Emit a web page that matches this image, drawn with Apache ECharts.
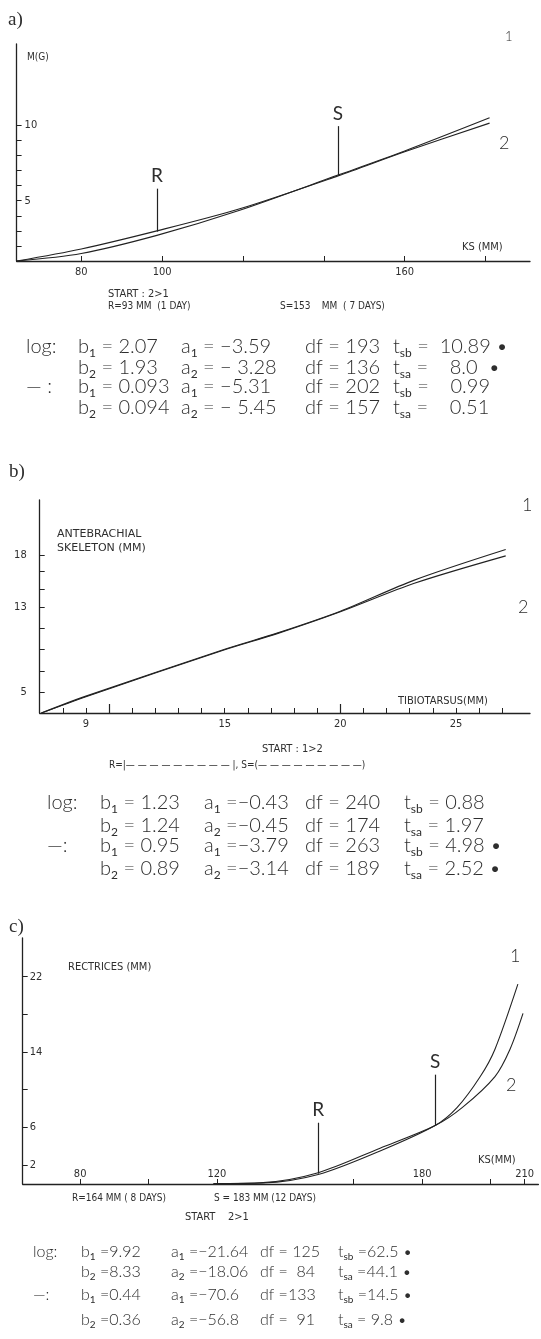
<!DOCTYPE html>
<html>
<head>
<meta charset="utf-8">
<script src="https://cdn.jsdelivr.net/npm/echarts@6/dist/echarts.min.js"></script>
<style>
  html, body { margin: 0; padding: 0; background: #fff; }
  #chart { width: 541px; height: 1339px; }
</style>
</head>
<body>
<div id="chart"></div>
<script>
// ---- Panel a: body mass M(G) against KS (MM) ----
const aLine1 = [[64, 1.0], [80, 1.5], [98.7, 2.7], [119, 4.35], [143.5, 6.7], [160, 8.3], [181, 10.5]];
const aLine2 = [[64, 1.0], [80, 1.8], [98.7, 3.0], [119, 4.45], [143.5, 6.65], [160, 8.25], [181, 10.15]];
const aMarkNames = ['R', 'S'];
const aMarkX = [98.7, 143.5];
const aMarkBase = [2.95, 6.7];
const aMarkTop = [5.8, 9.95];
const aXTicks = [80, 100, 120, 140, 160, 180];
const aXLabels = [80, 100, 160];
const aYTicks = [2, 3, 4, 5, 6, 7, 8, 9, 10];
const aYLabels = [5, 10];

// ---- Panel b: antebrachial skeleton against tibiotarsus ----
const bLine1 = [[7.07, 3.0], [9, 4.6], [15, 9.05], [17.3, 10.6], [20, 12.65], [23.2, 15.6], [27.15, 18.5]];
const bLine2 = [[7.07, 3.0], [9, 4.55], [15, 9.0], [17.3, 10.55], [20, 12.6], [23.2, 15.3], [27.15, 17.9]];
const bXTicks = [8, 9, 10, 11, 12, 13, 14, 15, 16, 17, 18, 19, 20, 21, 22, 23, 24, 25, 26, 27];
const bXMajorTicks = [10, 20];
const bXLabels = [9, 15, 20, 25];
const bYTicks = [5, 7, 9, 11, 13, 14.7, 16.4, 18];
const bYLabels = [5, 13, 18];

// ---- Panel c: rectrices against KS (MM) ----
const cLine1 = [[119, 0.05], [133.5, 0.1], [149.6, 1.0], [167.7, 3.5], [183.8, 6.2], [190.2, 8.1], [197, 11.4], [201.3, 14.3], [208, 21.2]];
const cLine2 = [[119, 0.05], [133.5, 0.15], [149.6, 1.2], [167.7, 3.8], [183.8, 6.2], [191.7, 8.1], [201.3, 11.4], [205.7, 14.3], [209.5, 18.1]];
const cMarkNames = ['R', 'S'];
const cMarkX = [149.6, 183.8];
const cMarkBase = [1.1, 6.2];
const cMarkTop = [6.5, 11.6];
const cXTicks = [80, 100, 120, 160, 180, 200, 210];
const cXLabels = [80, 120, 180, 210];
const cYTicks = [2, 6, 10, 14, 18, 22];
const cYLabels = [2, 6, 14, 22];

// ---- Regression statistics printed under each panel ----
const aStats = [
  ['log:', 'b_1 = 2.07', 'a_1 = −3.59', 'df = 193', 't_sb =  10.89 •'],
  ['', 'b_2 = 1.93', 'a_2 = − 3.28', 'df = 136', 't_sa =    8.0  •'],
  ['— :', 'b_1 = 0.093', 'a_1 = −5.31', 'df = 202', 't_sb =    0.99'],
  ['', 'b_2 = 0.094', 'a_2 = − 5.45', 'df = 157', 't_sa =    0.51']
];
const bStats = [
  ['log:', 'b_1 = 1.23', 'a_1 =−0.43', 'df = 240', 't_sb = 0.88'],
  ['', 'b_2 = 1.24', 'a_2 =−0.45', 'df = 174', 't_sa = 1.97'],
  ['—:', 'b_1 = 0.95', 'a_1 =−3.79', 'df = 263', 't_sb = 4.98 •'],
  ['', 'b_2 = 0.89', 'a_2 =−3.14', 'df = 189', 't_sa = 2.52 •']
];
const cStats = [
  ['log:', 'b_1 =9.92', 'a_1 =−21.64', 'df = 125', 't_sb =62.5 •'],
  ['', 'b_2 =8.33', 'a_2 =−18.06', 'df =  84', 't_sa =44.1 •'],
  ['—:', 'b_1 =0.44', 'a_1 =−70.6', 'df =133', 't_sb =14.5 •'],
  ['', 'b_2 =0.36', 'a_2 =−56.8', 'df =  91', 't_sa = 9.8 •']
];

const INK = '#222';
const TEXT = '#2e2e2e';
const CAPS = '"DejaVu Sans Condensed", "DejaVu Sans", sans-serif';
const STAT = 'Lato, "Open Sans", sans-serif';
const PANEL = '"Liberation Serif", "DejaVu Serif", serif';

const chart = echarts.init(document.getElementById('chart'), null, { renderer: 'canvas' });

function xAxisCfg(grid, min, max, ticks, labels, inside) {
  return {
    type: 'value', gridIndex: grid, min: min, max: max,
    axisLine: { show: true, onZero: false, lineStyle: { color: INK, width: 1.3 } },
    splitLine: { show: false },
    axisTick: { show: true, inside: true, length: 5, customValues: ticks, lineStyle: { color: INK, width: 1 } },
    axisLabel: { show: true, inside: inside, margin: inside ? 4 : 6, customValues: labels, fontFamily: CAPS, fontSize: 11, color: TEXT }
  };
}
function yAxisCfg(grid, min, max, ticks, labels, inside, margin) {
  return {
    type: 'value', gridIndex: grid, min: min, max: max,
    axisLine: { show: true, onZero: false, lineStyle: { color: INK, width: 1.3 } },
    splitLine: { show: false },
    axisTick: { show: true, inside: true, length: 5, customValues: ticks, lineStyle: { color: INK, width: 1 } },
    axisLabel: { show: true, inside: inside, margin: margin, customValues: labels, fontFamily: CAPS, fontSize: 11, color: TEXT }
  };
}
function markSegments(names, xs, base, top) {
  return names.map((n, i) => [{ name: n, coord: [xs[i], base[i]] }, { coord: [xs[i], top[i]] }]);
}
function lineSeries(data, xi, yi, marks) {
  const s = {
    type: 'line', xAxisIndex: xi, yAxisIndex: yi, data: data,
    smooth: 0.3, symbol: 'none', silent: true,
    lineStyle: { color: INK, width: 1.1 }
  };
  if (marks) {
    s.markLine = {
      silent: true, symbol: ['none', 'none'], animation: false,
      lineStyle: { color: INK, width: 1.2, type: 'solid' },
      label: { show: true, position: 'end', distance: 3, formatter: '{b}', fontFamily: STAT, fontSize: 19, color: TEXT },
      emphasis: { disabled: true },
      data: marks
    };
  }
  return s;
}

// plain text placed at a left / vertical-centre point
function txt(x, y, s, size, family, extra) {
  return {
    type: 'text', x: x, y: y, silent: true,
    style: Object.assign({ text: s, fontSize: size, fontFamily: family || CAPS, fill: TEXT, verticalAlign: 'middle', align: 'left' }, extra || {})
  };
}
// statistic cell with subscripts written as  base_sub
function statCell(x, y, s, size) {
  const parts = s.split(/_(\w+)/);
  let rich = '';
  parts.forEach((p, i) => {
    if (p === '') return;
    rich += (i % 2 === 1) ? '{s|' + p + '}' : '{m|' + p + '}';
  });
  return {
    type: 'text', x: x, y: y, silent: true,
    style: {
      text: rich, verticalAlign: 'middle', align: 'left', fill: TEXT,
      rich: {
        m: { fontSize: size, fontFamily: STAT, fontWeight: 300, lineHeight: size + 4, verticalAlign: 'middle', fill: TEXT },
        s: { fontSize: Math.round(size * 0.6), fontFamily: STAT, fontWeight: 400, lineHeight: Math.round(size * 0.5), verticalAlign: 'bottom', fill: TEXT }
      }
    }
  };
}
function statBlock(rows, cols, ys, size) {
  const out = [];
  rows.forEach((r, ri) => {
    r.forEach((cell, ci) => {
      if (cell) out.push(statCell(cols[ci], ys[ri], cell, size));
    });
  });
  return out;
}

const graphics = [
  // panel a
  txt(8, 20, 'a)', 19, PANEL),
  txt(27, 57, 'M(G)', 10),
  txt(462, 247, 'KS (MM)', 11),
  txt(505, 37, '1', 13, STAT, { fontWeight: 300 }),
  txt(499, 143, '2', 18, STAT, { fontWeight: 300 }),
  txt(108, 294, 'START : 2>1', 11),
  txt(108, 306, 'R=93 MM  (1 DAY)', 10),
  txt(280, 306, 'S=153    MM  ( 7 DAYS)', 10),
  // panel b
  txt(9, 472, 'b)', 19, PANEL),
  txt(57, 534, 'ANTEBRACHIAL', 11, '"DejaVu Sans", sans-serif'),
  txt(57, 548, 'SKELETON (MM)', 11, '"DejaVu Sans", sans-serif'),
  txt(398, 701, 'TIBIOTARSUS(MM)', 11),
  txt(522, 505, '1', 18, STAT, { fontWeight: 300 }),
  txt(518, 607, '2', 18, STAT, { fontWeight: 300 }),
  txt(262, 749, 'START : 1>2', 11),
  txt(109, 765, 'R=|— — — — — — — — — |, S=(— — — — — — — — —)', 10),
  // panel c
  txt(9, 927, 'c)', 19, PANEL),
  txt(68, 967, 'RECTRICES (MM)', 11),
  txt(510, 956, '1', 18, STAT, { fontWeight: 300 }),
  txt(506, 1085, '2', 18, STAT, { fontWeight: 300 }),
  txt(478, 1160, 'KS(MM)', 11),
  txt(72, 1198, 'R=164 MM ( 8 DAYS)', 10),
  txt(214, 1198, 'S = 183 MM (12 DAYS)', 10),
  txt(185, 1217, 'START    2>1', 11)
]
  .concat(statBlock(aStats, [26, 78, 181, 305, 393], [347, 368, 387, 408], 20))
  .concat(statBlock(bStats, [47, 100, 204, 305, 404], [803, 826, 846, 869], 20))
  .concat(statBlock(cStats, [33, 81, 171, 260, 338], [1252, 1272, 1295, 1320], 16));

const option = {
  animation: false,
  backgroundColor: '#fff',
  grid: [
    { left: 16.6, top: 44, width: 513.4, height: 217 },
    { left: 39.7, top: 500, width: 490.3, height: 213 },
    { left: 22.7, top: 938, width: 515.7, height: 246 }
  ],
  xAxis: [
    xAxisCfg(0, 64, 191, aXTicks, aXLabels, false),
    xAxisCfg(1, 7, 28.2, bXTicks, bXLabels, false),
    xAxisCfg(2, 63.2, 214, cXTicks, cXLabels, true),
    // longer ticks at the decades of panel b
    {
      type: 'value', gridIndex: 1, min: 7, max: 28.2, position: 'bottom',
      axisLine: { show: false, onZero: false }, splitLine: { show: false }, axisLabel: { show: false },
      axisTick: { show: true, inside: true, length: 9, customValues: bXMajorTicks, lineStyle: { color: INK, width: 1.2 } }
    }
  ],
  yAxis: [
    yAxisCfg(0, 1, 15.4, aYTicks, aYLabels, true, 8),
    yAxisCfg(1, 3, 23.2, bYTicks, bYLabels, false, 13),
    yAxisCfg(2, 0, 26.1, cYTicks, cYLabels, true, 7)
  ],
  series: [
    lineSeries(aLine1, 0, 0, markSegments(aMarkNames, aMarkX, aMarkBase, aMarkTop)),
    lineSeries(aLine2, 0, 0),
    lineSeries(bLine1, 1, 1),
    lineSeries(bLine2, 1, 1),
    lineSeries(cLine1, 2, 2, markSegments(cMarkNames, cMarkX, cMarkBase, cMarkTop)),
    lineSeries(cLine2, 2, 2)
  ],
  graphic: graphics
};
chart.setOption(option);
</script>
</body>
</html>
